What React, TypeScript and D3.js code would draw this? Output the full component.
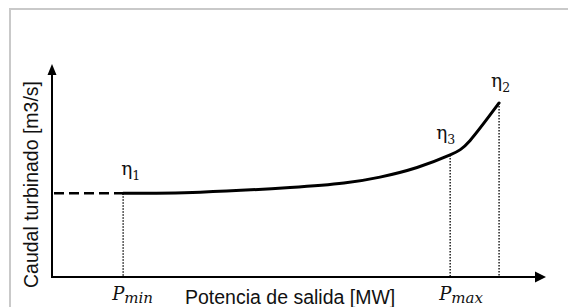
import { useEffect, useRef } from "react";
import * as d3 from "d3";

const W = 568;
const H = 307;

// curva de caudal vs potencia (unidades relativas 0-100)
const power = [14.4, 30.0, 48.2, 59.1, 66.4, 73.9, 80.6, 84.6, 90.5];
const flow = [39.3, 39.8, 42.0, 44.1, 46.9, 51.4, 57.3, 64.0, 81.7];

// marcas sobre el eje x
const tickPower = [14.4, 80.6];
const tickSub = ["min", "max"];

// puntos de rendimiento
const etaPower = [14.4, 80.6, 90.5];
const etaSub = ["1", "3", "2"];

const xTitle = "Potencia de salida [MW]";
const yTitle = "Caudal turbinado [m3/s]";

const SANS = "'Liberation Sans', Arial, sans-serif";
const SERIF = "'DejaVu Serif', serif";

export default function App() {
  const ref = useRef<SVGSVGElement>(null);

  useEffect(() => {
    if (!ref.current) return;
    const svg = d3.select(ref.current);
    svg.selectAll("*").remove();

    const x = d3.scaleLinear().domain([0, 100]).range([52, 546]);
    const y = d3.scaleLinear().domain([0, 100]).range([277, 64]);

    // marco gris
    svg.append("rect")
      .attr("x", 10).attr("y", 9).attr("width", 700).attr("height", 500)
      .attr("fill", "none").attr("stroke", "#c9c9c9").attr("stroke-width", 2);

    const pts = power.map((p, i) => ({ p, q: flow[i] }));
    const qAt = (p: number) => flow[power.indexOf(p)];

    // línea discontinua desde el eje hasta Pmin
    svg.append("line")
      .attr("x1", x(0) + 2).attr("x2", x(power[0]))
      .attr("y1", y(flow[0])).attr("y2", y(flow[0]))
      .attr("stroke", "#000").attr("stroke-width", 2.5)
      .attr("stroke-dasharray", "10,5");

    // líneas punteadas verticales
    etaPower.forEach((p) => {
      svg.append("line")
        .attr("x1", x(p)).attr("x2", x(p))
        .attr("y1", y(qAt(p))).attr("y2", y(0))
        .attr("stroke", "#111").attr("stroke-width", 1.4)
        .attr("stroke-dasharray", "1.5,1.5");
    });

    // curva
    svg.append("path").datum(pts)
      .attr("d", d3.line<typeof pts[0]>()
        .x((d) => x(d.p)).y((d) => y(d.q))
        .curve(d3.curveNatural))
      .attr("fill", "none").attr("stroke", "#000").attr("stroke-width", 3)
      .attr("stroke-linecap", "round");

    // ejes con flecha
    svg.append("line")
      .attr("x1", x(0)).attr("x2", x(100) - 8)
      .attr("y1", y(0)).attr("y2", y(0))
      .attr("stroke", "#000").attr("stroke-width", 2);
    svg.append("path")
      .attr("d", `M${x(100)},${y(0)} L${x(100) - 11},${y(0) - 5.5} L${x(100) - 11},${y(0) + 5.5} Z`)
      .attr("fill", "#000");
    svg.append("line")
      .attr("x1", x(0)).attr("x2", x(0))
      .attr("y1", y(0) + 1).attr("y2", y(100) + 8)
      .attr("stroke", "#000").attr("stroke-width", 2);
    svg.append("path")
      .attr("d", `M${x(0)},${y(100)} L${x(0) - 4.5},${y(100) + 11} L${x(0) + 4.5},${y(100) + 11} Z`)
      .attr("fill", "#000");

    // etiquetas eta
    const etaOffset = [{ dx: -2, dy: -18 }, { dx: -14, dy: -16 }, { dx: -8, dy: -16 }];
    etaPower.forEach((p, i) => {
      const t = svg.append("text")
        .attr("x", x(p) + etaOffset[i].dx).attr("y", y(qAt(p)) + etaOffset[i].dy)
        .attr("font-family", SERIF).attr("font-size", 18.5).attr("fill", "#111");
      t.append("tspan").text("\u03b7");
      t.append("tspan").attr("dy", 5).attr("font-size", 12.5).text(etaSub[i]);
    });

    // etiquetas Pmin / Pmax
    tickPower.forEach((p, i) => {
      const t = svg.append("text")
        .attr("x", x(p) - 11).attr("y", y(0) + 23)
        .attr("font-family", SERIF).attr("font-style", "italic")
        .attr("font-size", 18).attr("fill", "#111");
      t.append("tspan").text("P");
      t.append("tspan").attr("dy", 3).attr("font-size", 15).text(tickSub[i]);
    });

    // títulos de ejes
    svg.append("text")
      .attr("x", 185).attr("y", 304)
      .attr("font-family", SANS).attr("font-size", 19.5).attr("fill", "#111")
      .text(xTitle);
    svg.append("text")
      .attr("transform", `translate(37.5,${(y(0) + y(100)) / 2 + 14}) rotate(-90)`)
      .attr("text-anchor", "middle")
      .attr("font-family", SANS).attr("font-size", 19.5).attr("fill", "#111")
      .text(yTitle);
  }, []);

  return (
    <svg
      ref={ref}
      width={W}
      height={H}
      style={{ position: "absolute", left: 0, top: 0, background: "#fff", display: "block" }}
    />
  );
}
